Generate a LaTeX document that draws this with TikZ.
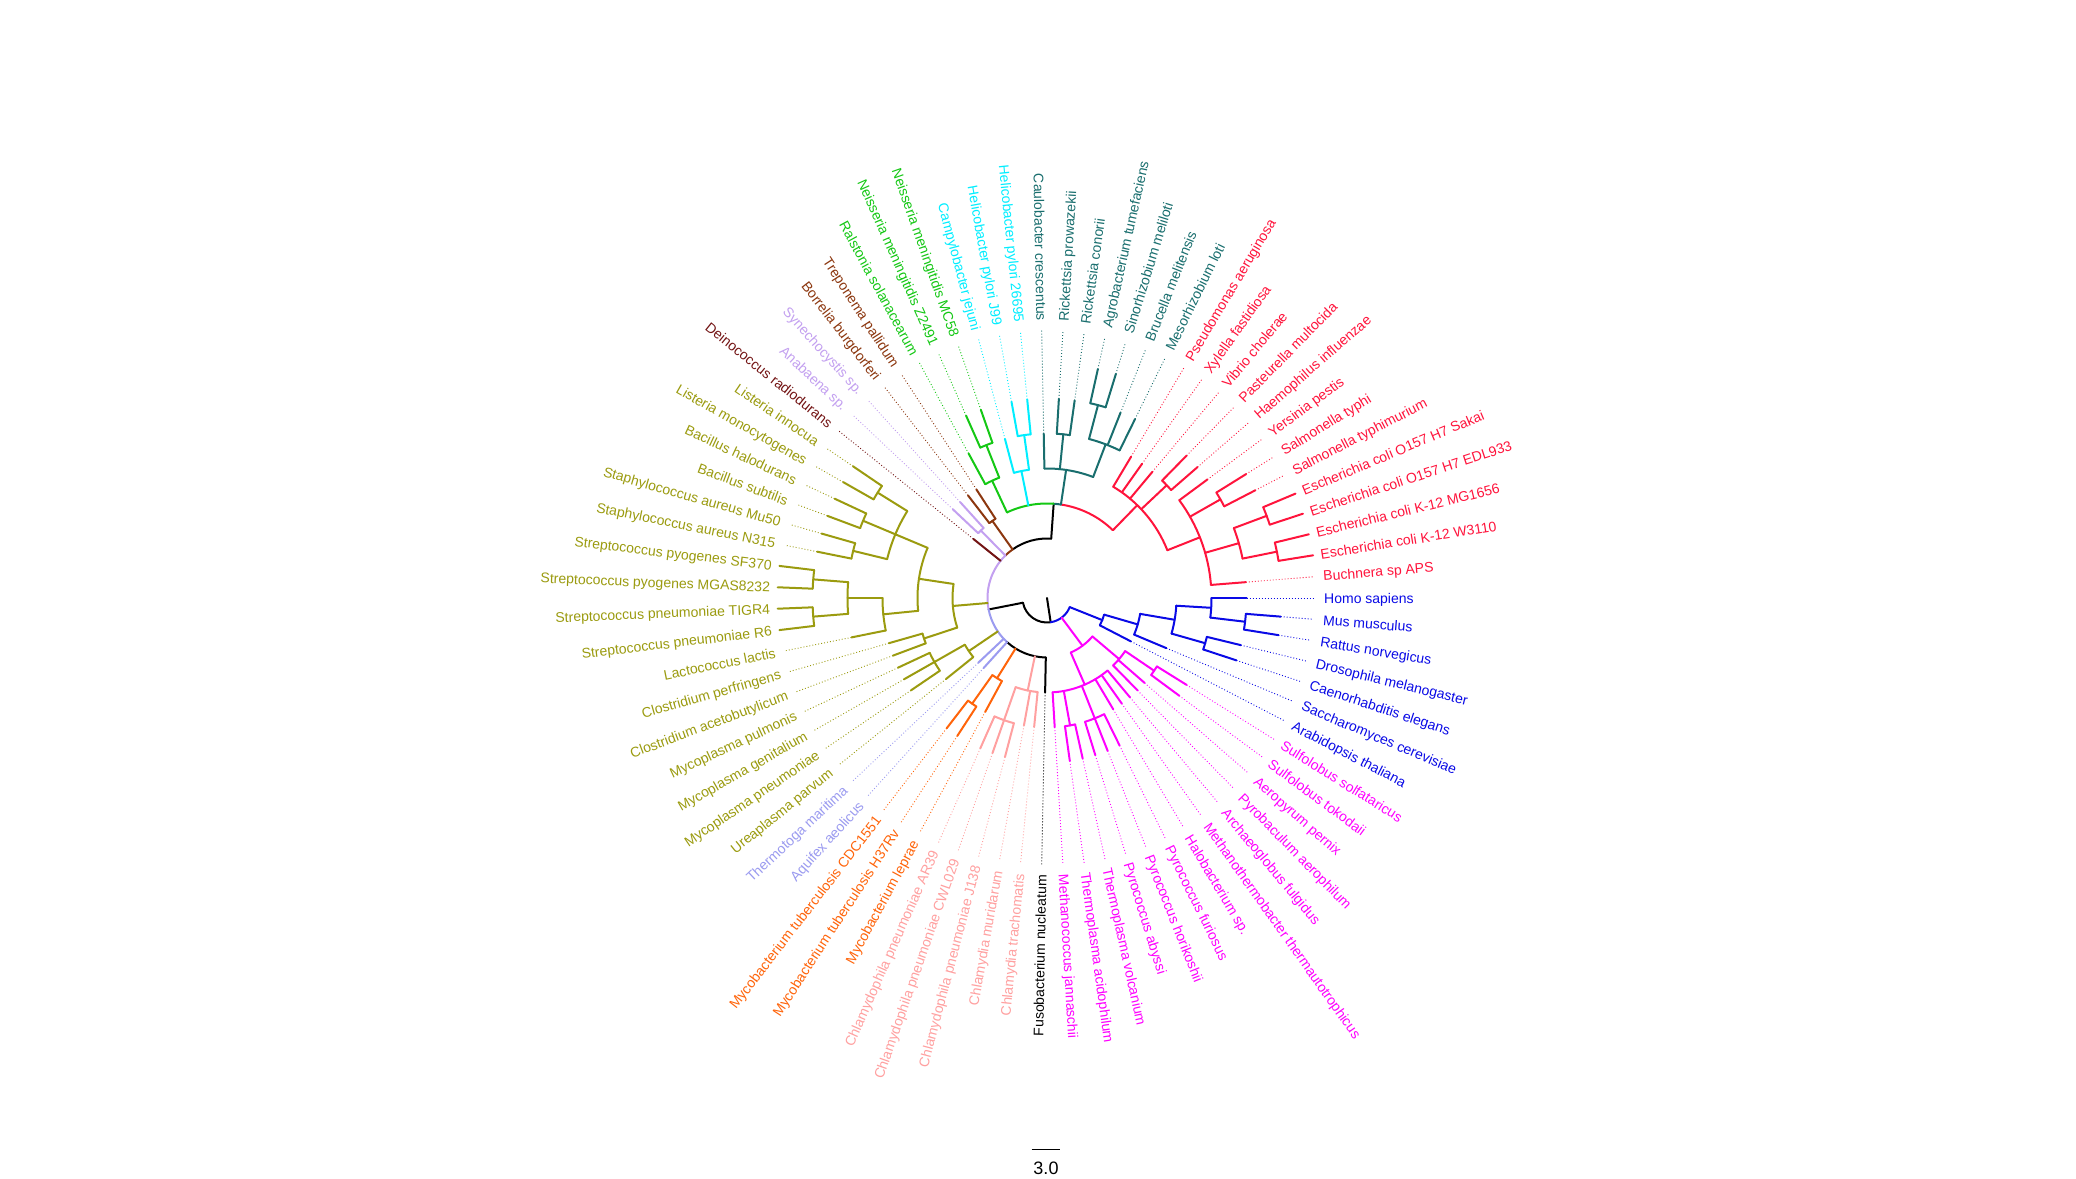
\documentclass[tikz,border=0pt]{standalone}
\usepackage{fontspec}
\setmainfont{Liberation Sans}
\definecolor{cRed}{RGB}{255,20,60}
\definecolor{cTeal}{RGB}{25,110,110}
\definecolor{cCyan}{RGB}{0,238,255}
\definecolor{cGreen}{RGB}{20,200,20}
\definecolor{cBrown}{RGB}{140,55,15}
\definecolor{cLav}{RGB}{195,160,240}
\definecolor{cDkRed}{RGB}{115,20,20}
\definecolor{cOlive}{RGB}{155,155,15}
\definecolor{cPeri}{RGB}{155,155,240}
\definecolor{cOrange}{RGB}{255,100,10}
\definecolor{cPink}{RGB}{255,160,160}
\definecolor{cMag}{RGB}{255,0,255}
\definecolor{cBlue}{RGB}{10,10,230}
\tikzset{
  branch/.style={line width=2pt, line cap=round},
  dotln/.style={line width=0.9pt, dash pattern=on 0.9pt off 2.1pt},
  lbl/.style={inner sep=0pt, font=\fontsize{14}{16}\selectfont, text height=10pt, text depth=0pt},
}
% radial branch: colour, from level, to level, angle index
\newcommand\radial[4]{%
  \pgfmathsetmacro\tA{#4*4.556962}%
  \pgfmathsetmacro\tR{35*#2-10.5}%
  \pgfmathsetmacro\tS{35*#3-10.5}%
  \draw[branch,#1] (\tA:\tR pt) -- (\tA:\tS pt);}
\newcommand\rads[4]{\foreach\ii in {#4}{\radial{#1}{#2}{#3}{\ii}}}
% arc: colour, level, from index, to index
\newcommand\arcc[4]{%
  \pgfmathsetmacro\tA{#3*4.556962}%
  \pgfmathsetmacro\tB{#4*4.556962}%
  \pgfmathsetmacro\tR{35*#2-10.5}%
  \draw[branch,#1] (\tA:\tR pt) arc[start angle=\tA, end angle=\tB, radius=\tR pt];}
% leaf: index, level, colour, text
\newcommand\leaf[4]{%
  \pgfmathsetmacro\tA{#1*4.556962}%
  \pgfmathsetmacro\tR{35*#2-10.5}%
  \coordinate (t#1) at (\tA:\tR pt);
  \coordinate (e#1) at (\tA:267.5pt);
  \ifnum#2<8 \draw[dotln,#3] (t#1) -- (e#1);\fi
  \pgfmathtruncatemacro\tL{and(\tA>90,\tA<270)}%
  \ifnum\tL=1
    \node[lbl,text=#3,anchor=east,rotate=\tA-180] (n#1) at (\tA:277pt) {#4};
  \else
    \node[lbl,text=#3,anchor=west,rotate=\tA] (n#1) at (\tA:277pt) {#4};
  \fi}
\begin{document}
\begin{tikzpicture}[x=1pt,y=1pt]
\useasboundingbox (-1047,-580) rectangle (1029,598);
\fill[white] (-1047,-580) rectangle (1029,598);
% root
\pgfmathsetmacro\aN{61.1501*4.556962}
\coordinate (root) at (0,0);
\coordinate (nN) at (\aN:24.5pt);
\draw[branch] (root) -- (nN);
\arcc{black}{1}{41.9399}{61.1501}
\arcc{cBlue}{1}{61.1501}{74.21875}
\radial{black}{1}{2}{41.9399}
\radial{cMag}{1}{2}{67.2917}
\radial{cBlue}{1}{2}{74.21875}
% bacteria polytomy
\arcc{black}{2}{18.8597}{27.5}
\arcc{cBrown}{2}{27.5}{29.5}
\arcc{cLav}{2}{29.5}{41.9399}
\arcc{cPeri}{2}{41.9399}{50}
\arcc{black}{2}{50}{59}
\radial{black}{2}{3}{18.8597}
\radial{cBrown}{2}{3}{27.5}
\radial{cLav}{2}{3}{29.5}
\radial{cDkRed}{2}{3}{31}
\radial{cOlive}{2}{3}{40.5625}
\radial{cOlive}{2}{3}{47}
\radial{cPeri}{2}{3}{49}
\radial{cPeri}{2}{3}{50}
\radial{cOrange}{2}{3}{52.25}
\radial{cPink}{2}{3}{56.6667}
\radial{black}{2}{3}{59}
% proteobacteria
\arcc{cRed}{3}{10.05}{17.8889}
\arcc{cTeal}{3}{17.8889}{18.8597}
\arcc{cGreen}{3}{18.8597}{25.25}
\radial{cRed}{3}{4}{10.05}
\radial{cTeal}{3}{4}{17.8889}
\radial{cCyan}{3}{4}{22.25}
\radial{cGreen}{3}{4}{25.25}
% gamma
\arcc{cRed}{4}{4.75}{13}
\rads{cRed}{4}{5}{4.75,9.5,11,12,13}
\arcc{cRed}{5}{9}{10}
\rads{cRed}{5}{6}{9,10}
\arcc{cRed}{5}{1}{8}
\rads{cRed}{5}{6}{1,3.5,6.5,8}
\arcc{cRed}{6}{6}{7}
\rads{cRed}{6}{7}{6,7}
\arcc{cRed}{6}{2.5}{4.5}
\rads{cRed}{6}{7}{2.5,4.5}
\arcc{cRed}{7}{2}{3}
\rads{cRed}{7}{8}{2,3}
\arcc{cRed}{7}{4}{5}
\rads{cRed}{7}{8}{4,5}
% alpha
\arcc{cTeal}{4}{15.1667}{20}
\rads{cTeal}{4}{5}{15.1667,18.5,20}
\arcc{cTeal}{5}{14}{16.5}
\rads{cTeal}{5}{6}{14,15,16.5}
\arcc{cTeal}{6}{16}{17}
\rads{cTeal}{6}{7}{16,17}
\arcc{cTeal}{5}{18}{19}
\rads{cTeal}{5}{6}{18,19}
% epsilon
\arcc{cCyan}{4}{21.5}{23}
\rads{cCyan}{4}{5}{21.5,23}
\arcc{cCyan}{5}{21}{22}
\rads{cCyan}{5}{6}{21,22}
% beta
\arcc{cGreen}{4}{24.5}{26}
\rads{cGreen}{4}{5}{24.5,26}
\arcc{cGreen}{5}{24}{25}
\rads{cGreen}{5}{6}{24,25}
% spirochetes, cyanobacteria
\arcc{cBrown}{3}{27}{28}
\rads{cBrown}{3}{4}{27,28}
\arcc{cLav}{3}{29}{30}
\rads{cLav}{3}{4}{29,30}
% firmicutes
\arcc{cOlive}{3}{37.625}{43.5}
\rads{cOlive}{3}{4}{37.625,43.5}
\arcc{cOlive}{4}{34.5}{40.75}
\rads{cOlive}{4}{5}{34.5,40.75}
\arcc{cOlive}{5}{32.5}{36.5}
\rads{cOlive}{5}{6}{32.5,34.5,36.5}
\arcc{cOlive}{6}{32}{33}
\rads{cOlive}{6}{7}{32,33}
\arcc{cOlive}{6}{34}{35}
\rads{cOlive}{6}{7}{34,35}
\arcc{cOlive}{6}{36}{37}
\rads{cOlive}{6}{7}{36,37}
\arcc{cOlive}{5}{39.5}{42}
\rads{cOlive}{5}{6}{39.5,42}
\arcc{cOlive}{6}{38.5}{40.5}
\rads{cOlive}{6}{7}{38.5,40.5}
\arcc{cOlive}{7}{38}{39}
\rads{cOlive}{7}{8}{38,39}
\arcc{cOlive}{7}{40}{41}
\rads{cOlive}{7}{8}{40,41}
\arcc{cOlive}{4}{43}{44}
\rads{cOlive}{4}{5}{43,44}
\arcc{cOlive}{3}{46}{48}
\rads{cOlive}{3}{4}{46,48}
\arcc{cOlive}{4}{45}{47}
\rads{cOlive}{4}{5}{45,46,47}
% actinobacteria
\arcc{cOrange}{3}{51.5}{53}
\rads{cOrange}{3}{4}{51.5,53}
\arcc{cOrange}{4}{51}{52}
\rads{cOrange}{4}{5}{51,52}
% chlamydiae
\arcc{cPink}{3}{55}{58}
\rads{cPink}{3}{4}{55,57,58}
\arcc{cPink}{4}{54}{56}
\rads{cPink}{4}{5}{54,55,56}
% archaea
\arcc{cMag}{2}{64.4167}{70.1667}
\rads{cMag}{2}{3}{64.4167,70.1667}
\arcc{cMag}{3}{60}{68}
\rads{cMag}{3}{4}{60,61.5,64,66,67,68}
\arcc{cMag}{4}{61}{62}
\rads{cMag}{4}{5}{61,62}
\arcc{cMag}{4}{63}{65}
\rads{cMag}{4}{5}{63,64,65}
\arcc{cMag}{3}{69}{71.5}
\rads{cMag}{3}{4}{69,70,71.5}
\arcc{cMag}{4}{71}{72}
\rads{cMag}{4}{5}{71,72}
% eukaryotes
\arcc{cBlue}{2}{73}{75.4375}
\rads{cBlue}{2}{3}{73,75.4375}
\arcc{cBlue}{3}{74}{76.875}
\rads{cBlue}{3}{4}{74,76.875}
\arcc{cBlue}{4}{75.5}{78.25}
\rads{cBlue}{4}{5}{75.5,78.25}
\arcc{cBlue}{5}{75}{76}
\rads{cBlue}{5}{6}{75,76}
\arcc{cBlue}{5}{77.5}{79}
\rads{cBlue}{5}{6}{77.5,79}
\arcc{cBlue}{6}{77}{78}
\rads{cBlue}{6}{7}{77,78}
% leaves
\leaf{1}{6}{cRed}{Buchnera sp APS}
\leaf{2}{8}{cRed}{Escherichia coli K-12 W3110}
\leaf{3}{8}{cRed}{Escherichia coli K-12 MG1656}
\leaf{4}{8}{cRed}{Escherichia coli O157 H7 EDL933}
\leaf{5}{8}{cRed}{Escherichia coli O157 H7 Sakai}
\leaf{6}{7}{cRed}{Salmonella typhimurium}
\leaf{7}{7}{cRed}{Salmonella typhi}
\leaf{8}{6}{cRed}{Yersinia pestis}
\leaf{9}{6}{cRed}{Haemophilus influenzae}
\leaf{10}{6}{cRed}{Pasteurella multocida}
\leaf{11}{5}{cRed}{Vibrio cholerae}
\leaf{12}{5}{cRed}{Xylella fastidiosa}
\leaf{13}{5}{cRed}{Pseudomonas aeruginosa}
\leaf{14}{6}{cTeal}{Mesorhizobium loti}
\leaf{15}{6}{cTeal}{Brucella melitensis}
\leaf{16}{7}{cTeal}{Sinorhizobium meliloti}
\leaf{17}{7}{cTeal}{Agrobacterium tumefaciens}
\leaf{18}{6}{cTeal}{Rickettsia conorii}
\leaf{19}{6}{cTeal}{Rickettsia prowazekii}
\leaf{20}{5}{cTeal}{Caulobacter crescentus}
\leaf{21}{6}{cCyan}{Helicobacter pylori 26695}
\leaf{22}{6}{cCyan}{Helicobacter pylori J99}
\leaf{23}{5}{cCyan}{Campylobacter jejuni}
\leaf{24}{6}{cGreen}{Neisseria meningitidis MC58}
\leaf{25}{6}{cGreen}{Neisseria meningitidis Z2491}
\leaf{26}{5}{cGreen}{Ralstonia solanacearum}
\leaf{27}{4}{cBrown}{Treponema pallidum}
\leaf{28}{4}{cBrown}{Borrelia burgdorferi}
\leaf{29}{4}{cLav}{Synechocystis sp.}
\leaf{30}{4}{cLav}{Anabaena sp.}
\leaf{31}{3}{cDkRed}{Deinococcus radiodurans}
\leaf{32}{7}{cOlive}{Listeria innocua}
\leaf{33}{7}{cOlive}{Listeria monocytogenes}
\leaf{34}{7}{cOlive}{Bacillus halodurans}
\leaf{35}{7}{cOlive}{Bacillus subtilis}
\leaf{36}{7}{cOlive}{Staphylococcus aureus Mu50}
\leaf{37}{7}{cOlive}{Staphylococcus aureus N315}
\leaf{38}{8}{cOlive}{Streptococcus pyogenes SF370}
\leaf{39}{8}{cOlive}{Streptococcus pyogenes MGAS8232}
\leaf{40}{8}{cOlive}{Streptococcus pneumoniae TIGR4}
\leaf{41}{8}{cOlive}{Streptococcus pneumoniae R6}
\leaf{42}{6}{cOlive}{Lactococcus lactis}
\leaf{43}{5}{cOlive}{Clostridium perfringens}
\leaf{44}{5}{cOlive}{Clostridium acetobutylicum}
\leaf{45}{5}{cOlive}{Mycoplasma pulmonis}
\leaf{46}{5}{cOlive}{Mycoplasma genitalium}
\leaf{47}{5}{cOlive}{Mycoplasma pneumoniae}
\leaf{48}{4}{cOlive}{Ureaplasma parvum}
\leaf{49}{3}{cPeri}{Thermotoga maritima}
\leaf{50}{3}{cPeri}{Aquifex aeolicus}
\leaf{51}{5}{cOrange}{Mycobacterium tuberculosis CDC1551}
\leaf{52}{5}{cOrange}{Mycobacterium tuberculosis H37Rv}
\leaf{53}{4}{cOrange}{Mycobacterium leprae}
\leaf{54}{5}{cPink}{Chlamydophila pneumoniae AR39}
\leaf{55}{5}{cPink}{Chlamydophila pneumoniae CWL029}
\leaf{56}{5}{cPink}{Chlamydophila pneumoniae J138}
\leaf{57}{4}{cPink}{Chlamydia muridarum}
\leaf{58}{4}{cPink}{Chlamydia trachomatis}
\leaf{59}{3}{black}{Fusobacterium nucleatum}
\leaf{60}{4}{cMag}{Methanococcus jannaschii}
\leaf{61}{5}{cMag}{Thermoplasma acidophilum}
\leaf{62}{5}{cMag}{Thermoplasma volcanium}
\leaf{63}{5}{cMag}{Pyrococcus abyssi}
\leaf{64}{5}{cMag}{Pyrococcus horikoshii}
\leaf{65}{5}{cMag}{Pyrococcus furiosus}
\leaf{66}{4}{cMag}{Halobacterium sp.}
\leaf{67}{4}{cMag}{Methanothermobacter thermautotrophicus}
\leaf{68}{4}{cMag}{Archaeoglobus fulgidus}
\leaf{69}{4}{cMag}{Pyrobaculum aerophilum}
\leaf{70}{4}{cMag}{Aeropyrum pernix}
\leaf{71}{5}{cMag}{Sulfolobus tokodaii}
\leaf{72}{5}{cMag}{Sulfolobus solfataricus}
\leaf{73}{3}{cBlue}{Arabidopsis thaliana}
\leaf{74}{4}{cBlue}{Saccharomyces cerevisiae}
\leaf{75}{6}{cBlue}{Caenorhabditis elegans}
\leaf{76}{6}{cBlue}{Drosophila melanogaster}
\leaf{77}{7}{cBlue}{Rattus norvegicus}
\leaf{78}{7}{cBlue}{Mus musculus}
\leaf{79}{6}{cBlue}{Homo sapiens}
% scale bar
\coordinate (sbA) at (-15.3,-551.3);
\coordinate (sbB) at (13,-551.3);
\draw[line width=1.4pt] (sbA) -- (sbB);
\node[inner sep=0pt, font=\fontsize{18}{20}\selectfont] (sbL) at (-1,-570.3) {3.0};
\end{tikzpicture}
\end{document}
